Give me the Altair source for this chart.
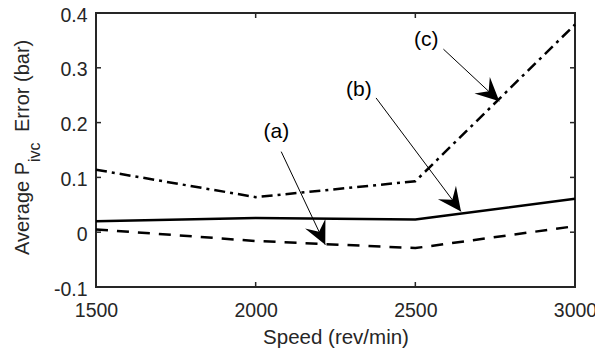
import math
import altair as alt
import pandas as pd

# ---- data ----
speeds = [1500, 2000, 2500, 3000]
err_a = [0.005, -0.016, -0.029, 0.011]   # dashed
err_b = [0.020, 0.026, 0.023, 0.061]     # solid
err_c = [0.114, 0.064, 0.093, 0.379]     # dash-dot

ann_labels = ["(a)", "(b)", "(c)"]
ann_text_x = [2065, 2323, 2534]
ann_text_y = [0.183, 0.260, 0.351]
ann_start_x = [2080, 2377, 2588]
ann_start_y = [0.147, 0.245, 0.334]
ann_tip_x = [2218, 2643, 2763]
ann_tip_y = [-0.023, 0.038, 0.239]

x_ticks = [1500, 2000, 2500, 3000]
y_ticks = [-0.1, 0.0, 0.1, 0.2, 0.3, 0.4]

XMIN, XMAX = 1500, 3000
YMIN, YMAX = -0.1, 0.4
W, H = 479, 274
FONT = "Liberation Sans"
AX = "#262626"

xs = alt.Scale(domain=[XMIN, XMAX], nice=False, zero=False)
ys = alt.Scale(domain=[YMIN, YMAX], nice=False, zero=False)

lines_df = pd.DataFrame({"speed": speeds, "a": err_a, "b": err_b, "c": err_c})

x_enc = alt.X("speed:Q", scale=xs,
              axis=alt.Axis(values=x_ticks, format="d", title="Speed (rev/min)",
                            domain=False, ticks=False, grid=False, labelFlush=False,
                            labelPadding=14, titlePadding=8))
y_axis = alt.Axis(values=y_ticks, labelExpr="toString(round(datum.value*10)/10)",
                  title=None, domain=False, ticks=False, grid=False, labelFlush=False,
                  labelPadding=9, labelOffset=2)

base = alt.Chart(lines_df)
line_a = base.mark_line(color="black", strokeWidth=2.5, strokeDash=[12, 9]).encode(
    x=x_enc, y=alt.Y("a:Q", scale=ys, axis=y_axis))
line_b = base.mark_line(color="black", strokeWidth=2.5).encode(
    x=alt.X("speed:Q", scale=xs), y=alt.Y("b:Q", scale=ys))
line_c = base.mark_line(color="black", strokeWidth=2.5, strokeDash=[11, 5, 3, 5]).encode(
    x=alt.X("speed:Q", scale=xs), y=alt.Y("c:Q", scale=ys))

# annotations
angles = []
for x1, y1, x2, y2 in zip(ann_start_x, ann_start_y, ann_tip_x, ann_tip_y):
    dxp = (x2 - x1) / (XMAX - XMIN) * W
    dyp = -(y2 - y1) / (YMAX - YMIN) * H
    angles.append(math.degrees(math.atan2(dxp, -dyp)) % 360)

ann_df = pd.DataFrame({
    "label": ann_labels, "tx": ann_text_x, "ty": ann_text_y,
    "x1": ann_start_x, "y1": ann_start_y, "x2": ann_tip_x, "y2": ann_tip_y,
    "ang": angles,
})
ann = alt.Chart(ann_df)
ann_text = ann.mark_text(font=FONT, fontSize=21, color="black", align="center",
                         baseline="middle").encode(
    x=alt.X("tx:Q", scale=xs), y=alt.Y("ty:Q", scale=ys), text="label:N")
ann_line = ann.mark_rule(color="black", strokeWidth=1).encode(
    x=alt.X("x1:Q", scale=xs), y=alt.Y("y1:Q", scale=ys),
    x2="x2:Q", y2="y2:Q")
head_path = "M0,0 L-0.48,1 L0,0.62 L0.48,1 Z"
ann_head = ann.mark_point(shape=head_path, filled=True, color="black", opacity=1,
                          size=2200, strokeWidth=0).encode(
    x=alt.X("x2:Q", scale=xs), y=alt.Y("y2:Q", scale=ys),
    angle=alt.Angle("ang:Q", scale=None))

# inward ticks (box style)
xt = alt.Chart(pd.DataFrame({"v": x_ticks}))
yt = alt.Chart(pd.DataFrame({"v": y_ticks}))
tick_style = dict(color=AX, strokeWidth=1.5)
xt_bot = xt.mark_rule(**tick_style).encode(x=alt.X("v:Q", scale=xs), y=alt.value(H), y2=alt.value(H - 5))
xt_top = xt.mark_rule(**tick_style).encode(x=alt.X("v:Q", scale=xs), y=alt.value(0), y2=alt.value(5))
yt_left = yt.mark_rule(**tick_style).encode(y=alt.Y("v:Q", scale=ys), x=alt.value(0), x2=alt.value(5))
yt_right = yt.mark_rule(**tick_style).encode(y=alt.Y("v:Q", scale=ys), x=alt.value(W - 5), x2=alt.value(W))

# y-axis title with subscript
def ytitle(txt, x, y, size):
    return alt.Chart(pd.DataFrame({"t": [txt]})).mark_text(
        font=FONT, fontSize=size, color=AX, angle=270, align="left", baseline="alphabetic"
    ).encode(text="t:N", x=alt.value(x), y=alt.value(y))

yt1 = ytitle("Average P", -67.5, 242.0, 20)
yt2 = ytitle("ivc", -56.5, 149.0, 16)
yt3 = ytitle("Error (bar)", -67.5, 119.0, 20)

chart = alt.layer(
    line_a, line_b, line_c, ann_line, ann_head, ann_text,
    xt_bot, xt_top, yt_left, yt_right, yt1, yt2, yt3,
).properties(
    width=W, height=H,
    padding={"left": 88, "top": 5, "right": 20, "bottom": 62},
    autosize=alt.AutoSizeParams(type="none"),
).configure(font=FONT).configure_view(
    stroke=AX, strokeWidth=2
).configure_axis(
    labelFont=FONT, labelFontSize=19.5, labelColor=AX,
    titleFont=FONT, titleFontSize=20.5, titleFontWeight="normal", titleColor=AX,
)

chart.save("out.html", embed_options={"renderer": "svg", "actions": False})
